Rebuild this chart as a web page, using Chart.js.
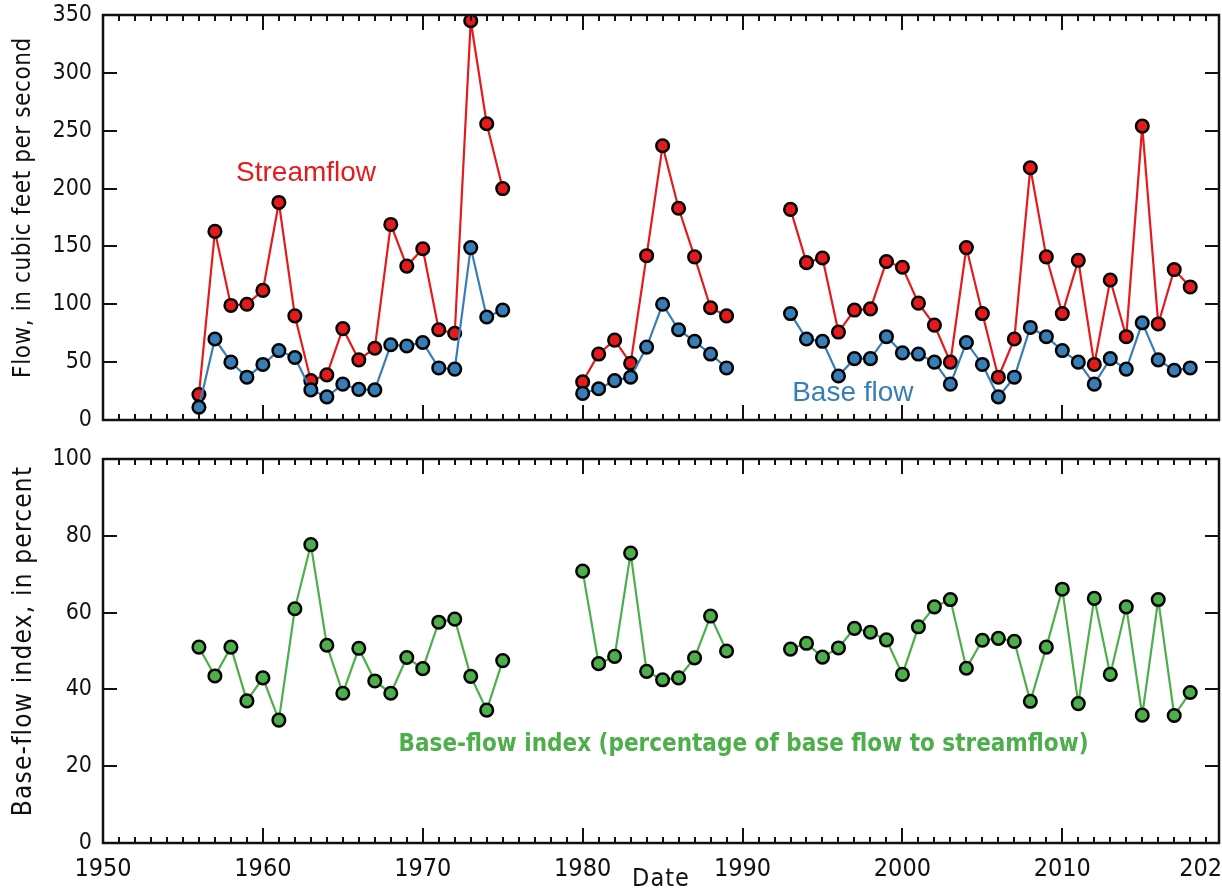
<!DOCTYPE html>
<html>
<head>
<meta charset="utf-8" />
<title>Streamflow, base flow and base-flow index</title>
<script src="https://cdn.jsdelivr.net/npm/chart.js"></script>
<style>
html,body{margin:0;padding:0;background:#fff;overflow:hidden}
#wrap{position:relative;width:1222px;height:888px;overflow:hidden}
.box{position:absolute;left:0;width:1280px}
</style>
</head>
<body>
<div id="wrap">
  <div class="box" style="top:0;height:440px"><canvas id="flow"></canvas></div>
  <div class="box" style="top:440px;height:448px"><canvas id="bfi"></canvas></div>
</div>
<script>
// yearly values, null = no record
const years = [1956,1957,1958,1959,1960,1961,1962,1963,1964,1965,1966,1967,1968,1969,1970,
  1971,1972,1973,1974,1975,1976,1977,1978,1979,1980,1981,1982,1983,1984,1985,1986,1987,1988,1989,
  1990,1991,1992,1993,1994,1995,1996,1997,1998,1999,2000,2001,2002,2003,2004,2005,2006,2007,2008,
  2009,2010,2011,2012,2013,2014,2015,2016,2017,2018];

const streamflow = [22,163,99,100,112,188,90,34,39,79,52,62,169,133,148,
  78,75,345,256,200,null,null,null,null,33,57,69,49,142,237,183,141,97,90,
  null,null,null,182,136,140,76,95,96,137,132,101,82,50,149,92,37,70,218,
  141,92,138,48,121,72,254,83,130,115];

const baseFlow = [11,70,50,37,48,60,54,26,20,31,26.5,26,65,64,67,
  45,44,149,89,95,null,null,null,null,23,27,34,37,63,100,78,68,57,45,
  null,null,null,92,70,68,38,53,53,72,58,57,50,31,67,48,20,37,80,
  72,60,50,31,53,44,84,52,43,45];

const baseFlowIndex = [51,43.5,51,37,43,32,61,77.7,51.5,39,50.7,42.2,39,48.3,45.4,
  57.5,58.3,43.4,34.6,47.5,null,null,null,null,70.8,46.7,48.6,75.5,44.7,42.5,43,48.2,59.1,50,
  null,null,null,50.5,52,48.4,50.8,55.9,54.9,52.9,43.9,56.3,61.5,63.4,45.5,52.8,53.3,52.5,36.9,
  51,66.1,36.3,63.7,43.9,61.5,33.3,63.4,33.2,39.2];

const xTickYears = [1950,1960,1970,1980,1990,2000,2010];
const flowTicks = [0,50,100,150,200,250,300,350];
const bfiTicks = [0,20,40,60,80,100];

const RED = '#e41a1c', BLUE = '#377eb8', GREEN = '#4daf4a';
const NARROW = "'Liberation Sans Narrow', 'DejaVu Sans Condensed', sans-serif";
const REG = "'Liberation Sans', Arial, sans-serif";

const pts = (vals) => years.map((x, i) => ({ x, y: vals[i] }));

const series = (label, vals, color) => ({
  label, data: pts(vals),
  borderColor: color, backgroundColor: color, borderWidth: 2.2,
  pointRadius: 6.3, pointBorderWidth: 2.5, pointBorderColor: '#000',
  pointBackgroundColor: color, spanGaps: false, tension: 0
});

// inward ticks on all four sides plus the frame
const frameTicks = {
  id: 'frameTicks',
  afterDatasetsDraw(chart) {
    const { ctx, chartArea: a, scales: { x, y } } = chart;
    ctx.save();
    ctx.strokeStyle = '#111';
    ctx.lineWidth = 2;
    ctx.beginPath();
    for (let yr = 1950; yr <= x.max; yr++) {
      const px = Math.round(x.getPixelForValue(yr));
      const len = yr % 10 === 0 ? 15 : 6;
      ctx.moveTo(px, a.bottom); ctx.lineTo(px, a.bottom - len);
      ctx.moveTo(px, a.top); ctx.lineTo(px, a.top + len);
    }
    y.ticks.forEach(t => {
      const py = Math.round(y.getPixelForValue(t.value));
      ctx.moveTo(a.left, py); ctx.lineTo(a.left + 14, py);
      ctx.moveTo(a.right, py); ctx.lineTo(a.right - 14, py);
    });
    ctx.stroke();
    ctx.lineWidth = 2.5;
    ctx.strokeRect(a.left, a.top, a.right - a.left, a.bottom - a.top);
    ctx.restore();
  }
};

// labels placed in data units, axis titles relative to the plot box
const texts = {
  id: 'texts',
  afterDraw(chart, args, opts) {
    const { ctx, chartArea: a, scales: { x, y } } = chart;
    ctx.save();
    ctx.textAlign = 'center';
    ctx.textBaseline = 'middle';
    (opts.notes || []).forEach(n => {
      ctx.font = n.font;
      ctx.fillStyle = n.color;
      ctx.letterSpacing = n.spacing || '0px';
      ctx.fillText(n.text, x.getPixelForValue(n.x), y.getPixelForValue(n.y));
    });
    if (opts.yTitle) {
      ctx.font = opts.yTitleFont;
      ctx.fillStyle = '#111';
      ctx.letterSpacing = opts.yTitleSpacing;
      ctx.translate(24, (a.top + a.bottom) / 2 - 10);
      ctx.rotate(-Math.PI / 2);
      ctx.fillText(opts.yTitle, 0, 0);
      ctx.setTransform(1, 0, 0, 1, 0, 0);
    }
    if (opts.xTitle) {
      ctx.font = '25px ' + NARROW;
      ctx.fillStyle = '#111';
      ctx.letterSpacing = '1px';
      ctx.fillText(opts.xTitle, (a.left + a.right) / 2, a.bottom + 36);
    }
    ctx.restore();
  }
};

const yScale = (min, max, list) => ({
  min, max,
  afterFit: s => { s.width = 103; s.paddingTop = 0; s.paddingBottom = 0; },
  afterBuildTicks: s => { s.ticks = list.map(v => ({ value: v })); },
  grid: { display: false, drawTicks: false },
  border: { display: false },
  ticks: { padding: 11, color: '#111', font: { family: NARROW, size: 23 } }
});

new Chart(document.getElementById('flow'), {
  type: 'line',
  data: { datasets: [series('Base flow', baseFlow, BLUE), series('Streamflow', streamflow, RED)] },
  options: {
    responsive: true, maintainAspectRatio: false, animation: false,
    layout: { padding: { top: 15, right: 61, bottom: 20, left: 0 } },
    scales: {
      x: { type: 'linear', min: 1950, max: 2019.8, display: false },
      y: yScale(0, 350, flowTicks)
    },
    plugins: {
      legend: { display: false }, tooltip: { enabled: false },
      texts: {
        yTitle: 'Flow, in cubic feet per second',
        yTitleFont: '24px ' + NARROW, yTitleSpacing: '0.6px',
        notes: [
          { text: 'Streamflow', x: 1962.7, y: 213, color: RED, font: '28px ' + REG },
          { text: 'Base flow', x: 1996.9, y: 23, color: BLUE, font: '28px ' + REG }
        ]
      }
    }
  },
  plugins: [frameTicks, texts]
});

new Chart(document.getElementById('bfi'), {
  type: 'line',
  data: { datasets: [series('Base-flow index', baseFlowIndex, GREEN)] },
  options: {
    responsive: true, maintainAspectRatio: false, animation: false,
    layout: { padding: { top: 19, right: 61, bottom: 0, left: 0 } },
    scales: {
      x: {
        type: 'linear', min: 1950, max: 2019.8,
        afterFit: s => { s.height = 45; s.paddingLeft = 0; s.paddingRight = 0; },
        afterBuildTicks: s => { s.ticks = xTickYears.concat([2019.1]).map(v => ({ value: v })); },
        grid: { display: false, drawTicks: false },
        border: { display: false },
        ticks: {
          padding: 11, color: '#111', maxRotation: 0, autoSkip: false,
          font: { family: NARROW, size: 25 },
          callback: v => (v > 2015 ? '2020' : String(v))
        }
      },
      y: yScale(0, 100, bfiTicks)
    },
    plugins: {
      legend: { display: false }, tooltip: { enabled: false },
      texts: {
        yTitle: 'Base-flow index, in percent',
        yTitleFont: '26px ' + NARROW, yTitleSpacing: '1.2px',
        xTitle: 'Date',
        notes: [
          { text: 'Base-flow index (percentage of base flow to streamflow)', x: 1990.06, y: 25.6,
            color: GREEN, font: 'bold 24px ' + NARROW }
        ]
      }
    }
  },
  plugins: [frameTicks, texts]
});
</script>
</body>
</html>
